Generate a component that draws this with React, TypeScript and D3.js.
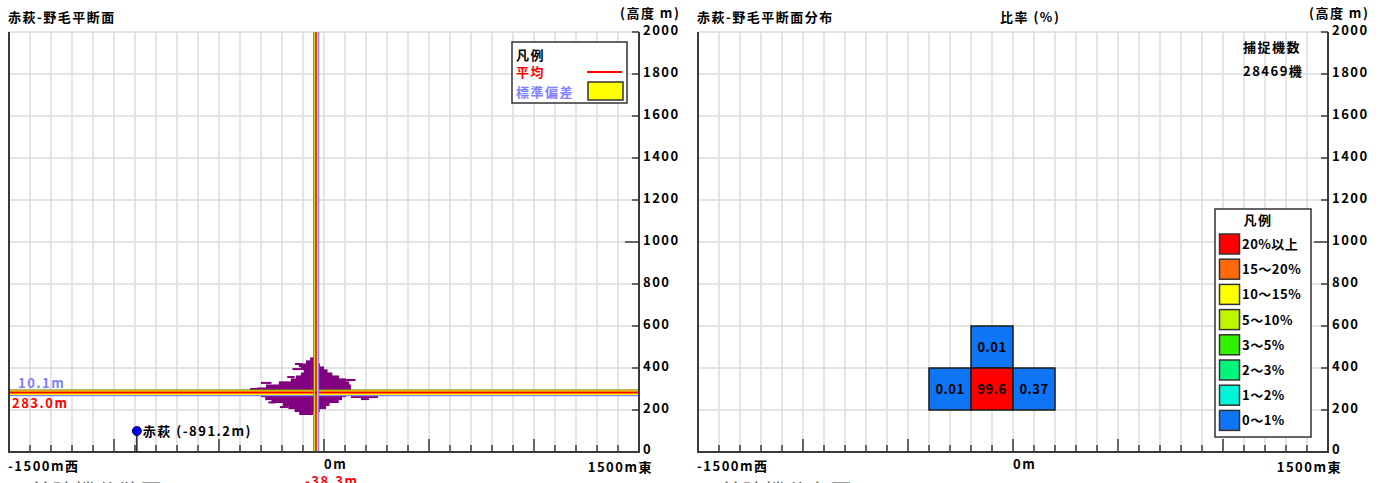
import React from "react";
import * as d3 from "d3";

// ---- data ----
const xDomain: [number, number] = [-1500, 1500];
const yDomain: [number, number] = [0, 2000];
const yTicks = [0, 200, 400, 600, 800, 1000, 1200, 1400, 1600, 1800, 2000];
const xMinorTicks = d3.range(-1400, 1500, 100);

const meanAlt = 283.0;
const sdAlt = 10.1;
const meanX = -38.3;
const sdX = 10.5;

const stationName = "赤萩";
const stationX = -891.2;
const stationAlt = 100;

// scatter density rows: altitude (m), left (m), right (m)
const blobAlt = [443, 429, 414, 400, 386, 371, 357, 343, 329, 314, 300, 286, 271, 257, 243, 229, 214, 200, 186];
const blobLeft = [-66, -86, -120, -110, -96, -110, -134, -158, -215, -276, -318, -328, -300, -280, -250, -196, -170, -140, -118];
const blobRight = [-36, -30, -19, 0, 17, 40, 72, 104, 120, 128, 128, 110, 104, 86, 70, 26, 10, -20, -52];
// stray streaks
const streakAlt = [419, 395, 343, 300, 271, 262, 252, 329, 214, 357, 236];
const streakLeft = [-138, -150, 104, -352, 171, 128, 176, -300, -210, -175, -265];
const streakRight = [-105, -110, 150, -295, 219, 257, 214, -250, -170, -140, -230];

// distribution cells: x from, y from (200 m cells), value
const cellX = [-200, -400, -200, 0];
const cellY = [400, 200, 200, 200];
const cellVal = [0.01, 0.01, 99.6, 0.37];

const legendLabels = ["20%以上", "15～20%", "10～15%", "5～10%", "3～5%", "2～3%", "1～2%", "0～1%"];
const legendColors = ["#ff0000", "#ff6a0a", "#ffff00", "#bff500", "#33f000", "#00f57a", "#00f5d8", "#1075f5"];
const legendMin = [20, 15, 10, 5, 3, 2, 1, 0];

const totalCount = 28469;

const FONT = "'Noto Sans CJK JP', 'Noto Sans', sans-serif";

function colorFor(v: number) {
  for (let i = 0; i < legendMin.length; i++) if (v >= legendMin[i]) return legendColors[i];
  return legendColors[legendColors.length - 1];
}

const T = (props: any) => (
  <text fontFamily={FONT} fontWeight="bold" fontSize={13} letterSpacing={1.5} {...props} />
);

function Frame({ x, title }: { x: d3.ScaleLinear<number, number>; title: string }) {
  const y = d3.scaleLinear().domain(yDomain).range([452, 32]);
  const [x0, x1] = x.range();
  return (
    <g>
      {d3.range(-1500, 1501, 100).map((v) => (
        <line key={"v" + v} x1={x(v)} x2={x(v)} y1={y(2000)} y2={y(0)} stroke="#dcdcdc" strokeWidth={1.5} />
      ))}
      {yTicks.map((v) => (
        <line key={"h" + v} x1={x0} x2={x1} y1={y(v)} y2={y(v)} stroke="#dcdcdc" strokeWidth={1.5} />
      ))}
      <T x={x0 - 1} y={22} fontSize={13}>{title}</T>
    </g>
  );
}

function Axes({ x }: { x: d3.ScaleLinear<number, number> }) {
  const y = d3.scaleLinear().domain(yDomain).range([452, 32]);
  const [x0, x1] = x.range();
  return (
    <g>
      <line x1={x0} x2={x0} y1={y(2000)} y2={y(0) + 1} stroke="#3a3a3a" strokeWidth={2} />
      <line x1={x1} x2={x1} y1={y(2000)} y2={y(0) + 1} stroke="#3a3a3a" strokeWidth={2} />
      <line x1={x0} x2={x1} y1={y(0)} y2={y(0)} stroke="#3a3a3a" strokeWidth={2} />
      {xMinorTicks.map((v) => (
        <line key={"t" + v} x1={x(v)} x2={x(v)} y1={y(0)} y2={y(0) - (v % 500 === 0 ? 13 : 7)} stroke="#3a3a3a" strokeWidth={1.5} />
      ))}
      {yTicks.map((v) => (
        <g key={"yt" + v}>
          <line x1={x1} x2={x1 - (v === 1000 ? 14 : 7)} y1={y(v)} y2={y(v)} stroke="#3a3a3a" strokeWidth={1.5} />
          <T x={x1 + 4} y={y(v) + (v === 0 ? 2 : 3)}>{v}</T>
        </g>
      ))}
      <T x={x1 - 19} y={18}>(高度 m)</T>
      <T x={x0 - 1} y={471}>-1500m西</T>
      <T x={x(0)} y={469}>0m</T>
      <T x={x1 + 14} y={472} textAnchor="end">1500m東</T>
    </g>
  );
}

export default function App() {
  const xL = d3.scaleLinear().domain(xDomain).range([9, 639]);
  const xR = d3.scaleLinear().domain(xDomain).range([698, 1328]);
  const y = d3.scaleLinear().domain(yDomain).range([452, 32]);
  const rowH = y(0) - y(15);

  return (
    <svg width={1388} height={483} style={{ position: "absolute", left: 0, top: 0, background: "#fff" }}>
      <rect width={1388} height={483} fill="#fff" />
      {/* ---------- left chart ---------- */}
      <Frame x={xL} title="赤萩-野毛平断面" />

      <g fill="#800080">
        {blobAlt.map((a, i) => (
          <rect key={"b" + i} x={xL(blobLeft[i])} width={xL(blobRight[i]) - xL(blobLeft[i])} y={y(a) - rowH / 2} height={rowH + 0.5} />
        ))}
        {streakAlt.map((a, i) => (
          <rect key={"s" + i} x={xL(streakLeft[i])} width={xL(streakRight[i]) - xL(streakLeft[i])} y={y(a) - 1} height={2} />
        ))}
      </g>

      <rect x={xL(-1500)} width={xL(1500) - xL(-1500)} y={y(meanAlt + sdAlt) - 0.5} height={y(meanAlt - sdAlt) - y(meanAlt + sdAlt) + 1} fill="#ffff00" />
      <line x1={xL(-1500)} x2={xL(1500)} y1={y(meanAlt + sdAlt) - 0.5} y2={y(meanAlt + sdAlt) - 0.5} stroke="#7a7a00" strokeWidth={1} />
      <line x1={xL(-1500)} x2={xL(1500)} y1={y(meanAlt - sdAlt) + 1} y2={y(meanAlt - sdAlt) + 1} stroke="#8080ff" strokeWidth={1.2} />
      <line x1={xL(-1500)} x2={xL(1500)} y1={y(meanAlt)} y2={y(meanAlt)} stroke="#ff0000" strokeWidth={2} />
      <rect x={xL(meanX - sdX)} width={xL(meanX + sdX) - xL(meanX - sdX)} y={y(2000)} height={y(0) - y(2000)} fill="#ffff00" />
      <line x1={xL(meanX - sdX)} x2={xL(meanX - sdX)} y1={y(2000)} y2={y(0)} stroke="#7a7a00" strokeWidth={1} />
      <line x1={xL(meanX + sdX) + 0.5} x2={xL(meanX + sdX) + 0.5} y1={y(2000)} y2={y(0)} stroke="#8080ff" strokeWidth={1.2} />
      <line x1={xL(meanX)} x2={xL(meanX)} y1={y(2000)} y2={y(0)} stroke="#e63200" strokeWidth={2} />
      <rect x={xL(meanX) - 1} width={2} y={y(meanAlt) - 1} height={2} fill="#a00000" />

      <T x={18} y={388} fill="#8080ff">{sdAlt.toFixed(1)}m</T>
      <T x={12} y={408} fill="#ff0000">{meanAlt.toFixed(1)}m</T>
      <T x={xL(meanX) - 11} y={486} fill="#ff0000">{meanX.toFixed(1)}m</T>

      <Axes x={xL} />

      <line x1={xL(stationX)} x2={xL(stationX)} y1={y(stationAlt)} y2={y(0)} stroke="#222" strokeWidth={1.5} />
      <circle cx={xL(stationX)} cy={y(stationAlt)} r={4.5} fill="#0000ee" stroke="#000066" strokeWidth={1} />
      <T x={xL(stationX) + 6} y={y(stationAlt) + 5}>{stationName} ({stationX.toFixed(1)}m)</T>

      <rect x={512} y={42} width={115} height={61} fill="#fff" stroke="#333" strokeWidth={1.5} />
      <T x={516} y={60}>凡例</T>
      <T x={516} y={77} fill="#ff0000">平均</T>
      <line x1={587} x2={622} y1={72} y2={72} stroke="#ff0000" strokeWidth={2} />
      <T x={516} y={97} fill="#8080ff">標準偏差</T>
      <rect x={588} y={82} width={35} height={18} fill="#ffff00" stroke="#333" strokeWidth={1.5} />

      <text x={30} y={500} fontFamily={FONT} fontSize={22} fill="#555">着陸機分散図</text>

      {/* ---------- right chart ---------- */}
      <Frame x={xR} title="赤萩-野毛平断面分布" />
      {cellVal.map((v, i) => (
        <g key={"c" + i}>
          <rect x={xR(cellX[i])} y={y(cellY[i] + 200)} width={xR(cellX[i] + 200) - xR(cellX[i])} height={y(cellY[i]) - y(cellY[i] + 200)} fill={colorFor(v)} stroke="#1a1a1a" strokeWidth={1.5} />
          <T x={xR(cellX[i] + 100)} y={y(cellY[i] + 100) + 5} textAnchor="middle" letterSpacing={0.5}>{v}</T>
        </g>
      ))}
      <Axes x={xR} />
      <T x={1000} y={22}>比率 (%)</T>
      <T x={1243} y={52}>捕捉機数</T>
      <T x={1243} y={76}>{totalCount}機</T>

      <rect x={1215} y={209} width={96} height={228} fill="#fff" stroke="#333" strokeWidth={1.5} />
      <T x={1258} y={225} textAnchor="middle">凡例</T>
      {legendLabels.map((l, i) => (
        <g key={"l" + i}>
          <rect x={1219.5} y={234 + i * 25.2} width={20} height={20} fill={legendColors[i]} stroke="#333" strokeWidth={1.5} />
          <T x={1242} y={249 + i * 25.2} letterSpacing={0.5}>{l}</T>
        </g>
      ))}

      <text x={720} y={500} fontFamily={FONT} fontSize={22} fill="#555">着陸機分布図</text>
    </svg>
  );
}
